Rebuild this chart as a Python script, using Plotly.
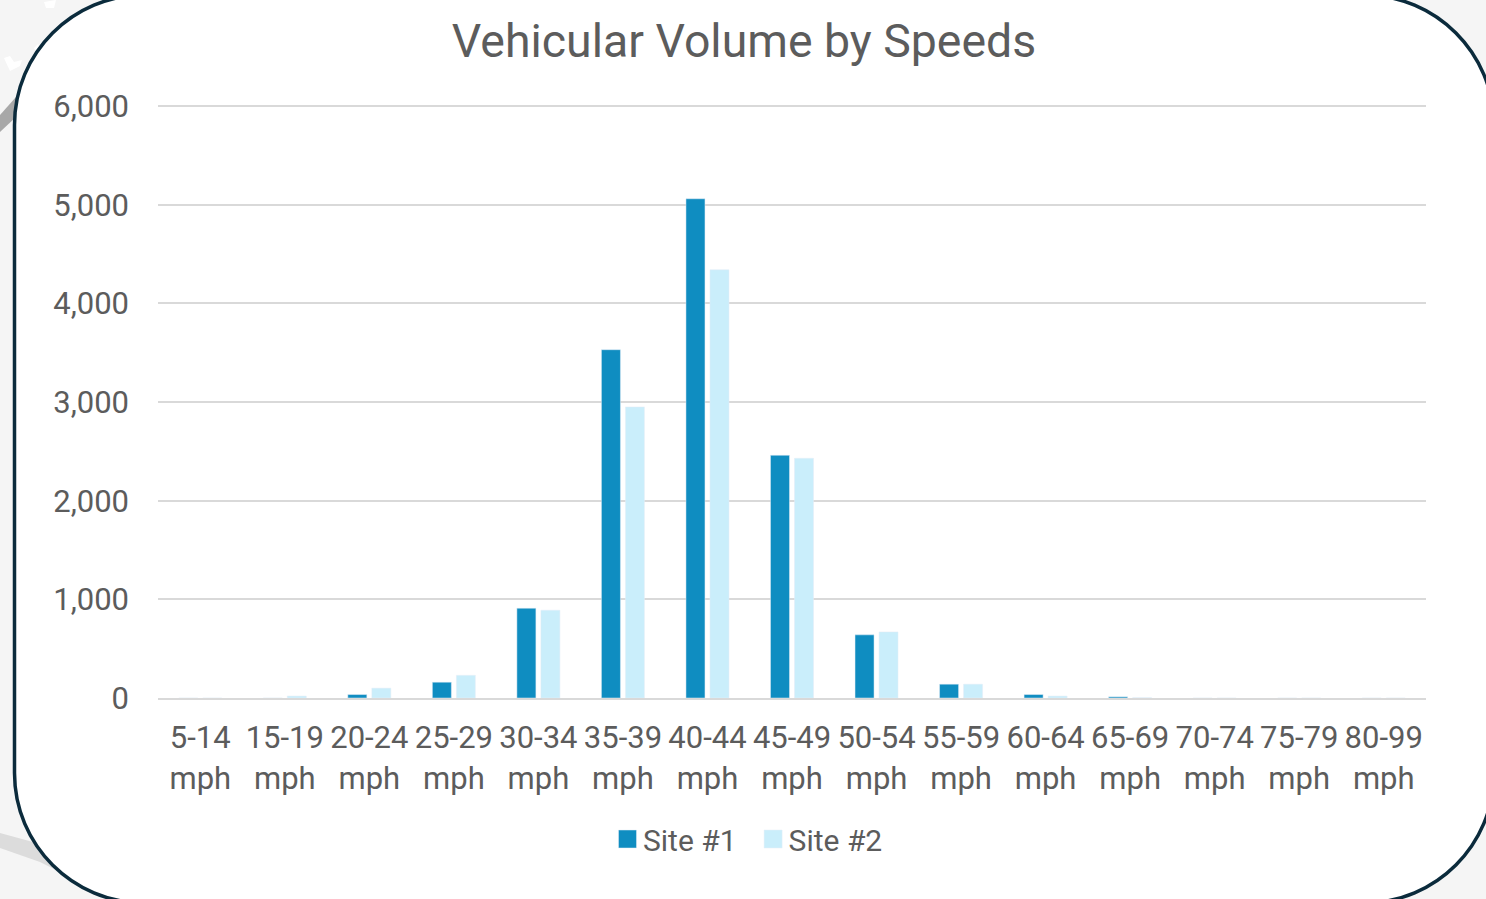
import plotly.graph_objects as go

categories = ["5-14<br>mph", "15-19<br>mph", "20-24<br>mph", "25-29<br>mph", "30-34<br>mph",
              "35-39<br>mph", "40-44<br>mph", "45-49<br>mph", "50-54<br>mph", "55-59<br>mph",
              "60-64<br>mph", "65-69<br>mph", "70-74<br>mph", "75-79<br>mph", "80-99<br>mph"]
site_1 = [0, 0, 35, 160, 910, 3530, 5060, 2460, 640, 140, 35, 12, 0, 0, 0]
site_2 = [0, 20, 100, 230, 890, 2950, 4340, 2430, 670, 140, 20, 3, 0, 0, 0]
y_ticks = [0, 1000, 2000, 3000, 4000, 5000, 6000]

W, H = 1486, 899
L, R, T, B = 158, 60, 104, 201
TEXT = "#5c5c5c"
FONT = "Roboto"


def px(x):
    return (x - L) / (W - L - R)


def py(y):
    return (H - B - y) / (H - T - B)


def poly(points):
    return "M" + " L".join(f"{px(a):.5f},{py(b):.5f}" for a, b in points) + " Z"


def rounded(x0, y0, x1, y1, r):
    k = r * 0.4477
    pts = [
        f"M{px(x0 + r):.5f},{py(y0):.5f}",
        f"L{px(x1 - r):.5f},{py(y0):.5f}",
        f"C{px(x1 - k):.5f},{py(y0):.5f} {px(x1):.5f},{py(y0 + k):.5f} {px(x1):.5f},{py(y0 + r):.5f}",
        f"L{px(x1):.5f},{py(y1 - r):.5f}",
        f"C{px(x1):.5f},{py(y1 - k):.5f} {px(x1 - k):.5f},{py(y1):.5f} {px(x1 - r):.5f},{py(y1):.5f}",
        f"L{px(x0 + r):.5f},{py(y1):.5f}",
        f"C{px(x0 + k):.5f},{py(y1):.5f} {px(x0):.5f},{py(y1 - k):.5f} {px(x0):.5f},{py(y1 - r):.5f}",
        f"L{px(x0):.5f},{py(y0 + r):.5f}",
        f"C{px(x0):.5f},{py(y0 + k):.5f} {px(x0 + k):.5f},{py(y0):.5f} {px(x0 + r):.5f},{py(y0):.5f} Z",
    ]
    return " ".join(pts)


def shape(path, fill, line="rgba(0,0,0,0)", width=0):
    return dict(type="path", xref="paper", yref="paper", layer="below", path=path,
                fillcolor=fill, line=dict(color=line, width=width))


shapes = [
    shape(poly([(0, 115), (16, 97), (16, 117), (0, 132)]), "#a8a8a8"),
    shape(poly([(0, 833), (33, 842), (60, 862), (60, 872), (40, 862), (0, 848)]), "#dcdcdc"),
    shape(poly([(4, 58), (10, 56), (14, 62), (22, 60), (20, 66), (10, 71)]), "#ffffff"),
    shape(poly([(34, 48), (38, 44), (41, 50), (37, 54)]), "#ffffff"),
    shape(poly([(44, 2), (56, 0), (54, 8), (46, 8)]), "#ffffff"),
    shape(rounded(14.5, -5, 1494, 903, 130), "#ffffff", "#0b2b3c", 3.5),
]

fig = go.Figure()
fig.add_bar(name="Site #1", x=categories, y=site_1, marker=dict(color="#0f8dc1"))
fig.add_bar(name="Site #2", x=categories, y=site_2, marker=dict(color="#caeefb"))

fig.update_layout(
    width=W, height=H,
    autosize=False,
    margin=dict(l=L, r=R, t=T, b=B, pad=0),
    paper_bgcolor="#f5f5f5",
    plot_bgcolor="rgba(0,0,0,0)",
    font=dict(family=FONT, color=TEXT, size=31),
    title=dict(text="Vehicular Volume by Speeds", font=dict(family=FONT, size=46.4, color=TEXT),
               x=744 / W, xanchor="center", y=1 - 41 / H, yanchor="middle"),
    barmode="group",
    bargap=0.432,
    bargroupgap=0.208,
    shapes=shapes,
    showlegend=True,
    legend=dict(orientation="h", x=742 / W, xref="container", xanchor="center",
                y=1 - 839 / H, yref="container", yanchor="middle", itemwidth=37,
                font=dict(family=FONT, size=30, color=TEXT), bgcolor="rgba(0,0,0,0)"),
)
fig.update_xaxes(type="category", tickfont=dict(family=FONT, size=31, color=TEXT), ticks="",
                 showline=True, linecolor="#d9d9d9", linewidth=2, showgrid=False, tickangle=0,
                 ticklabelstandoff=11)
fig.update_yaxes(range=[0, 6020.3], tickvals=y_ticks, tickformat=",",
                 tickfont=dict(family=FONT, size=31, color=TEXT), ticks="", showline=False,
                 gridcolor="#d9d9d9", gridwidth=2, zeroline=False, ticklabelstandoff=28)

fig.write_html(
    "out.html",
    config={"displayModeBar": False},
    post_script=(
        "document.body.style.margin='0';"
        "document.querySelectorAll('.legendbar, .legendpoints path').forEach("
        "function(p){p.setAttribute('d','M17,9H-1V-9H17Z');});"
    ),
)
